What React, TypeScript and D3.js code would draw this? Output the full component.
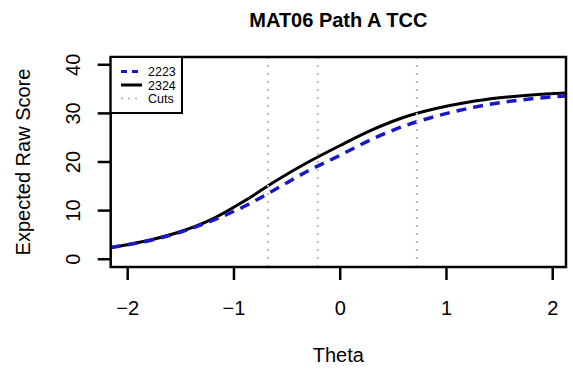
import React from "react";
import * as d3 from "d3";

const thetaGrid = [-2.16, -1.8, -1.5, -1.2, -0.9, -0.6, -0.3, 0, 0.3, 0.6, 0.9, 1.2, 1.5, 1.8, 2.125];
const tcc2324 = [2.4, 3.9, 5.7, 8.3, 12.0, 16.2, 20.0, 23.4, 26.6, 29.2, 31.0, 32.3, 33.2, 33.8, 34.2];
const tcc2223 = [2.4, 3.8, 5.6, 8.0, 10.9, 14.5, 18.2, 21.4, 24.7, 27.4, 29.4, 31.0, 32.2, 33.0, 33.6];
const cuts = [-0.681, -0.211, 0.721];
const xTicks = [-2, -1, 0, 1, 2];
const yTicks = [0, 10, 20, 30, 40];
const legendLabels = ["2223", "2324", "Cuts"];

const W = 573, H = 370;
const L = 110.7, R = 566, T = 57, B = 267;
const FONT = "'Liberation Sans', Arial, sans-serif";

export default function App() {
  const x = d3.scaleLinear().domain([-2.16, 2.125]).range([L, R]);
  const y = d3.scaleLinear().domain([-1.6, 41.6]).range([B, T]);
  const line = d3.line<[number, number]>().x(d => x(d[0])).y(d => y(d[1])).curve(d3.curveCatmullRom.alpha(0.5));
  const black = line(thetaGrid.map((t, i) => [t, tcc2324[i]] as [number, number])) || "";
  const blue = line(thetaGrid.map((t, i) => [t, tcc2223[i]] as [number, number])) || "";
  const blueCol = "#1818c8";
  const legY = [71.5, 85, 98.5];
  return (
    <svg width={W} height={H} style={{ position: "absolute", left: 0, top: 0, background: "#fff" }} fontFamily={FONT}>
      <rect x={0} y={0} width={W} height={H} fill="#fff" />
      <defs>
        <clipPath id="plotclip"><rect x={L} y={T} width={R - L} height={B - T} /></clipPath>
      </defs>
      <text x={(L + R) / 2} y={27} textAnchor="middle" fontSize={20} fontWeight="bold">MAT06 Path A TCC</text>
      <g clipPath="url(#plotclip)">
        <path d={black} fill="none" stroke="#000" strokeWidth={3} />
        <path d={blue} fill="none" stroke={blueCol} strokeWidth={3.5} strokeDasharray="10 7" />
        {cuts.map((c, i) => (
          <line key={i} x1={x(c)} x2={x(c)} y1={T} y2={B} stroke="#bdbdbd" strokeWidth={2} strokeDasharray="2 6" />
        ))}
      </g>
      <rect x={L} y={T} width={R - L} height={B - T} fill="none" stroke="#000" strokeWidth={2.5} />
      {xTicks.map(t => (
        <g key={t}>
          <line x1={x(t)} x2={x(t)} y1={B} y2={B + 13} stroke="#000" strokeWidth={2.5} />
          <text x={x(t)} y={315} textAnchor="middle" fontSize={20}>{t < 0 ? "\u2212" + Math.abs(t) : String(t)}</text>
        </g>
      ))}
      {yTicks.map(t => (
        <g key={t}>
          <line x1={L - 13} x2={L} y1={y(t)} y2={y(t)} stroke="#000" strokeWidth={2.5} />
          <text transform={`translate(80,${y(t)}) rotate(-90)`} textAnchor="middle" fontSize={20}>{t}</text>
        </g>
      ))}
      <text x={(L + R) / 2} y={362} textAnchor="middle" fontSize={20}>Theta</text>
      <text transform={`translate(30,${(T + B) / 2}) rotate(-90)`} textAnchor="middle" fontSize={20}>Expected Raw Score</text>
      <rect x={L} y={T} width={182 - L} height={113 - T} fill="#fff" stroke="#000" strokeWidth={2} />
      <line x1={121} x2={142} y1={legY[0]} y2={legY[0]} stroke={blueCol} strokeWidth={3} strokeDasharray="6 5" />
      <line x1={121} x2={142} y1={legY[1]} y2={legY[1]} stroke="#000" strokeWidth={3} />
      <line x1={121} x2={142} y1={legY[2]} y2={legY[2]} stroke="#bdbdbd" strokeWidth={2} strokeDasharray="2 5" />
      {legendLabels.map((s, i) => (
        <text key={s} x={148} y={legY[i] + 4.5} fontSize={12.5}>{s}</text>
      ))}
    </svg>
  );
}
